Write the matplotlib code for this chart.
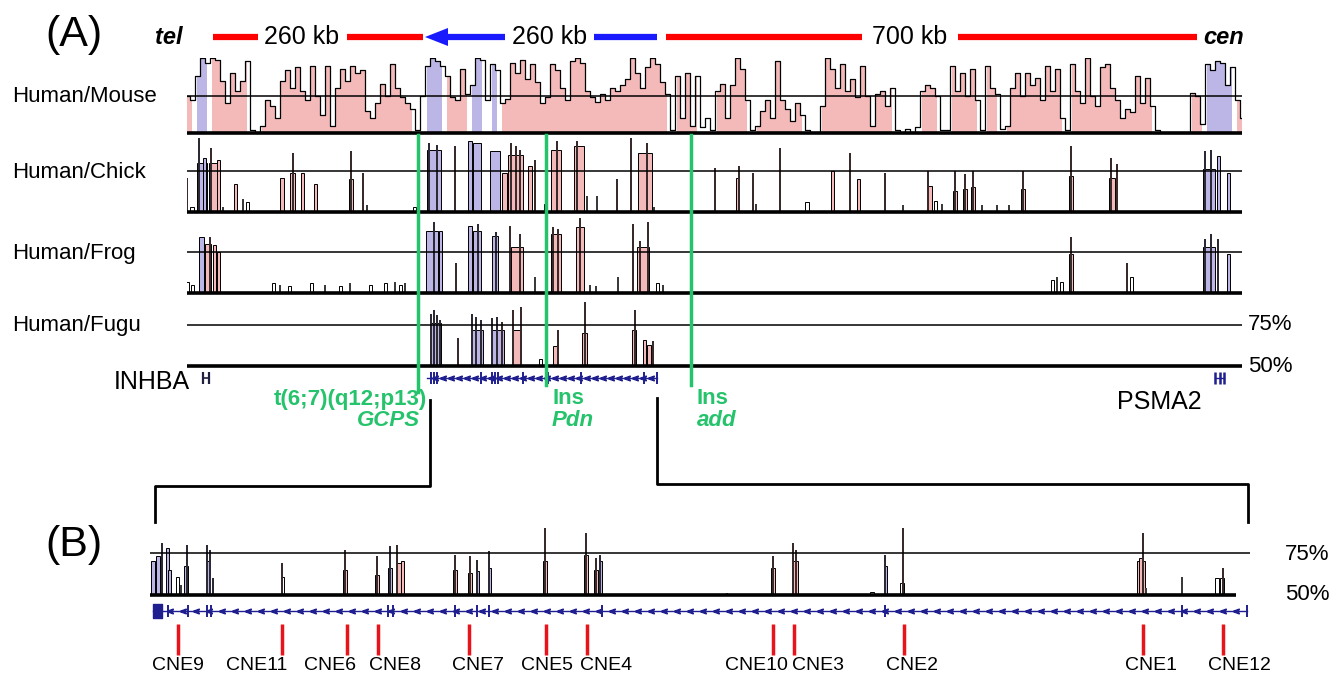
import numpy as np
import matplotlib.pyplot as plt

plt.rcParams['font.family'] = ['Liberation Sans', 'DejaVu Sans']

W, H = 1343, 678
PINK = '#f4b9b9'
LAV = '#bbb6e6'
GREEN = '#25c36b'
NAVY = '#1f1f8f'

# Human/Mouse identity (%), one value every 5 units along the locus
hm_vals = [
    75, 72, 88, 100, 97, 100, 99, 85, 70, 90,
    78, 85, 98, 52, 50, 55, 72, 68, 60, 85,
    92, 80, 94, 78, 72, 95, 75, 62, 95, 55,
    80, 93, 85, 95, 90, 92, 65, 60, 70, 83,
    75, 96, 80, 74, 70, 66, 52, 75, 95, 100,
    98, 95, 88, 74, 72, 93, 76, 82, 100, 99,
    72, 96, 92, 70, 73, 97, 90, 99, 86, 96,
    84, 70, 74, 96, 92, 80, 72, 98, 100, 97,
    78, 74, 71, 76, 72, 80, 78, 82, 86, 100,
    90, 80, 94, 100, 96, 84, 76, 52, 88, 60,
    90, 55, 88, 54, 60, 52, 78, 83, 60, 82,
    100, 93, 72, 52, 55, 65, 72, 60, 98, 72,
    66, 58, 70, 62, 52, 50, 50, 68, 100, 93,
    80, 96, 78, 86, 74, 95, 75, 55, 76, 78,
    68, 80, 52, 50, 53, 51, 54, 78, 82, 80,
    75, 52, 52, 95, 78, 90, 75, 93, 72, 52,
    95, 80, 76, 53, 55, 80, 90, 75, 90, 82,
    87, 72, 95, 78, 93, 60, 52, 96, 78, 70,
    100, 75, 68, 94, 96, 80, 72, 60, 66, 64,
    88, 70, 87, 68, 52, 50, 50, 50, 50, 50,
    50, 77, 75, 56, 96, 92, 98, 97, 82, 94,
    72, 60,
]
exons_a = [(10, 20), (238, 258), (281, 296), (303, 313), (1018, 1045)]

# (position, identity %, width)
chick_peaks = [
    (0, 71, 2), (5, 53, 4), (15, 80, 10), (12, 95, 2), (17, 83, 3),
    (27, 80, 10), (24, 89, 2), (31, 82, 3), (36, 53, 2), (48, 67, 3), (56, 58, 2), (60, 56, 3),
    (95, 71, 4), (105, 74, 5), (106, 86, 2), (115, 74, 3), (128, 67, 3),
    (164, 70, 4), (164, 87, 2), (176, 74, 2), (180, 54, 2), (227, 53, 3),
    (247, 88, 14), (242, 92, 2), (250, 91, 2), (268, 90, 2),
    (283, 93, 4), (290, 92, 8), (308, 87, 10), (317, 74, 5),
    (328, 85, 15), (324, 92, 2), (329, 90, 2), (333, 88, 2),
    (343, 78, 4), (348, 82, 2), (358, 55, 3), (369, 88, 10), (370, 93, 2),
    (392, 90, 10), (390, 93, 2), (400, 60, 2), (410, 60, 2), (430, 70, 2),
    (444, 95, 2), (458, 86, 14), (460, 92, 2), (467, 53, 2),
    (528, 77, 2), (550, 71, 3), (552, 78, 2), (566, 74, 2), (569, 55, 2),
    (593, 89, 2), (620, 56, 4), (645, 75, 3), (663, 86, 2), (671, 70, 3), (698, 74, 2),
    (716, 54, 2), (741, 75, 2), (743, 66, 4), (748, 57, 3), (755, 55, 2),
    (768, 75, 2), (768, 63, 4), (778, 73, 2), (778, 64, 4), (786, 75, 2), (786, 65, 4),
    (795, 54, 2), (810, 54, 2), (822, 54, 2),
    (836, 75, 2), (836, 64, 4), (884, 72, 4), (884, 90, 2), (924, 83, 2), (925, 71, 6), (930, 79, 2),
    (1022, 76, 12), (1018, 87, 2), (1024, 88, 2), (1031, 84, 3), (1041, 74, 3),
]
frog_peaks = [
    (0, 57, 3), (5, 55, 3), (14, 84, 5), (21, 80, 6), (23, 84, 2), (27, 79, 3), (31, 75, 3),
    (86, 56, 3), (93, 55, 2), (102, 54, 3), (124, 56, 3), (138, 55, 2), (153, 54, 3),
    (163, 56, 2), (183, 55, 3), (198, 56, 3), (208, 57, 2), (213, 55, 3), (218, 56, 2),
    (245, 88, 12), (247, 93, 2), (253, 88, 3), (269, 68, 2), (283, 91, 4),
    (290, 88, 8), (291, 92, 2), (308, 85, 6), (309, 87, 2), (323, 91, 2),
    (330, 78, 12), (333, 86, 2), (348, 60, 2), (369, 86, 10), (366, 90, 2), (371, 89, 2),
    (393, 90, 8), (393, 96, 2), (403, 55, 2), (409, 54, 2), (431, 60, 2),
    (456, 78, 12), (446, 92, 2), (453, 82, 2), (461, 93, 2), (470, 56, 3), (476, 55, 2),
    (865, 58, 3), (870, 60, 2), (874, 57, 3), (884, 74, 4), (884, 84, 2),
    (940, 68, 2), (944, 60, 3), (1022, 78, 12), (1018, 83, 2), (1024, 86, 2), (1031, 83, 2), (1041, 74, 3),
]
fugu_peaks = [
    (249, 76, 10), (244, 82, 2), (247, 84, 2), (250, 81, 2), (253, 78, 2), (271, 67, 2),
    (290, 72, 12), (285, 82, 2), (289, 80, 2), (294, 78, 2),
    (311, 72, 12), (305, 79, 2), (310, 80, 2), (315, 77, 2),
    (330, 72, 8), (326, 84, 2), (334, 86, 2), (353, 54, 3),
    (368, 62, 4), (371, 72, 2), (397, 70, 5), (398, 89, 2),
    (447, 72, 4), (448, 84, 2), (457, 66, 3), (462, 63, 4), (466, 65, 2),
]
b_peaks = [
    (3, 70, 4), (8, 73, 4), (12, 81, 2), (17, 78, 3), (19, 65, 3), (27, 61, 3), (31, 56, 2),
    (36, 67, 4), (37, 80, 2), (58, 70, 4), (57, 80, 2), (60, 77, 2), (63, 60, 2),
    (132, 61, 3), (132, 69, 2), (195, 65, 4), (195, 77, 2), (227, 62, 4), (227, 73, 2),
    (240, 66, 4), (240, 79, 2), (249, 69, 5), (247, 80, 2), (252, 70, 3),
    (305, 65, 4), (305, 74, 2), (320, 63, 4), (320, 73, 2), (327, 64, 3), (327, 71, 2),
    (339, 66, 3), (339, 76, 2), (395, 70, 4), (395, 90, 2),
    (436, 74, 4), (436, 87, 2), (446, 65, 4), (446, 72, 2), (450, 70, 3), (450, 74, 2),
    (577, 51, 2), (623, 66, 4), (623, 73, 2), (645, 70, 5), (643, 81, 2), (646, 77, 2),
    (722, 52, 4), (735, 67, 3), (735, 74, 2), (752, 57, 4), (753, 90, 2),
    (991, 70, 8), (990, 72, 3), (993, 87, 2), (996, 54, 2), (1032, 61, 2),
    (1067, 60, 4), (1072, 60, 4), (1073, 66, 2),
]
exons_b = [(0, 22), (34, 40), (55, 65), (238, 243), (325, 330), (337, 341), (448, 453), (733, 737)]

track_names = ['Human/Mouse', 'Human/Chick', 'Human/Frog', 'Human/Fugu']
breakpoints = [231, 359, 504]
bp_text = [('t(6;7)(q12;p13)', 'GCPS'), ('Ins', 'Pdn'), ('Ins', 'add')]
gene_a = (240, 470)
gene_a_exons = [244, 247, 250, 294, 305, 308, 311, 336, 361, 394, 457, 470]
gene_b = (3, 1097)
gene_b_exons = [18, 38, 57, 61, 238, 243, 305, 327, 339, 452, 735, 1032, 1097]
cne_names = ['CNE9', 'CNE11', 'CNE6', 'CNE8', 'CNE7', 'CNE5', 'CNE4',
             'CNE10', 'CNE3', 'CNE2', 'CNE1', 'CNE12']
cne_pos = [28, 132, 197, 228, 319, 396, 437, 623, 644, 754, 993, 1073]
cne_label_x = [28, 107, 180, 245, 328, 397, 456, 606, 668, 762, 1001, 1089]

fig = plt.figure(figsize=(W / 100, H / 100), dpi=100)


def px_axes(x0, y0, x1, y1):
    ax = fig.add_axes([x0 / W, 1 - y1 / H, (x1 - x0) / W, (y1 - y0) / H])
    ax.axis('off')
    return ax


def in_exon(p, exons):
    return any(a <= p <= b for a, b in exons)


def setup_track(ax, span, base_end=None):
    ax.set_xlim(0, span)
    ax.set_ylim(50, 100)
    ax.hlines(75, 0, span, color='black', lw=1.1, zorder=4)
    ax.hlines(50, 0, base_end or span, color='black', lw=2.6, zorder=5, clip_on=False)


def draw_peaks(ax, peaks, exons):
    for pos, pct, w in sorted(peaks, key=lambda t: -t[2]):
        if in_exon(pos, exons):
            fc = LAV
        elif pct >= 62:
            fc = PINK
        else:
            fc = 'white'
        if w <= 2:
            # thin spike: fill strip plus a black line at its peak
            ax.bar(pos, pct - 50, width=w, bottom=50, color=fc, lw=0, zorder=2)
            ax.vlines(pos, 50, pct, color='black', lw=1.1, zorder=3)
        else:
            ax.bar(pos, pct - 50, width=w, bottom=50, color=fc, edgecolor='black',
                   linewidth=0.7, zorder=2)


# panel A tracks
A_X0, A_X1 = 187, 1242
span_a = A_X1 - A_X0
track_rows = [(58, 133), (130, 212), (211, 293), (284, 366)]

ax = px_axes(A_X0, 58, A_X1, 133)
setup_track(ax, span_a)
pos = np.arange(len(hm_vals)) * 5
v = np.array(hm_vals)
ex = np.array([in_exon(p, exons_a) for p in pos])
ax.fill_between(pos, 50, v, where=(v >= 55) & ~ex, step='mid', color=PINK, lw=0)
ax.fill_between(pos, 50, v, where=ex, step='mid', color=LAV, lw=0)
ax.step(pos, v, where='mid', color='black', lw=0.9, zorder=3)

for (y0, y1), peaks in zip(track_rows[1:], [chick_peaks, frog_peaks, fugu_peaks]):
    ax = px_axes(A_X0, y0, A_X1, y1)
    setup_track(ax, span_a)
    draw_peaks(ax, peaks, exons_a)

# gene row of panel A
g = px_axes(A_X0, 370, A_X1, 386)
g.set_xlim(0, span_a)
g.set_ylim(-1, 1)
g.plot(gene_a, [0, 0], color=NAVY, lw=1)
chev_a = np.arange(gene_a[0] + 8, gene_a[1], 8)
g.plot(chev_a, np.zeros(len(chev_a)), ls='none', marker='$<$', ms=4, color=NAVY)
g.vlines(gene_a_exons, -0.8, 0.8, color=NAVY, lw=1.4)
g.vlines([16, 22], -0.7, 0.7, color='#202040', lw=1.6)
g.plot([16, 22], [0, 0], color='#202040', lw=1.2)
g.vlines([1028, 1033, 1037], -0.8, 0.8, color=NAVY, lw=1.8)
g.plot([1028, 1037], [0, 0], color=NAVY, lw=1)

# panel B
B_X0, B_X1 = 150, 1250
span_b = B_X1 - B_X0
ax = px_axes(B_X0, 511, B_X1, 595)
setup_track(ax, span_b, base_end=1086)
draw_peaks(ax, b_peaks, exons_b)

gb = px_axes(B_X0, 603, B_X1, 619)
gb.set_xlim(0, span_b)
gb.set_ylim(-1, 1)
gb.plot(gene_b, [0, 0], color=NAVY, lw=1)
chev = np.arange(20, gene_b[1], 13)
gb.plot(chev, np.zeros(len(chev)), ls='none', marker='$<$', ms=4, color=NAVY)
gb.vlines(gene_b_exons, -0.8, 0.8, color=NAVY, lw=1.4)
gb.fill_between([3, 12], -0.9, 0.9, color=NAVY)

cb = px_axes(B_X0, 620, B_X1, 680)
cb.set_xlim(0, span_b)
cb.set_ylim(0, 1)
cb.vlines(cne_pos, 0.42, 0.93, color='#e8141c', lw=2.5)
for name, lx in zip(cne_names, cne_label_x):
    cb.text(lx, 0.25, name, ha='center', va='center', fontsize=14)

# overlay: labels, scale bar, annotations
ov = fig.add_axes([0, 0, 1, 1])
ov.set_xlim(0, W)
ov.set_ylim(H, 0)
ov.axis('off')

ov.text(45, 35, '(A)', fontsize=31, va='center', ha='left')
ov.text(45, 545, '(B)', fontsize=31, va='center', ha='left')
for name, (y0, y1) in zip(track_names, track_rows):
    ov.text(12, (y0 + y1) / 2 + 1, name, fontsize=16, va='center', ha='left')
ov.text(1248, 325, '75%', fontsize=16, va='center')
ov.text(1248, 367, '50%', fontsize=16, va='center')
ov.text(1285, 555, '75%', fontsize=16, va='center')
ov.text(1285, 594, '50%', fontsize=16, va='center')

ov.text(155, 38, 'tel', fontsize=17, fontweight='bold', fontstyle='italic', va='center')
ov.text(1203, 38, 'cen', fontsize=17, fontweight='bold', fontstyle='italic', va='center')
for x0, x1, c in [(213, 258, 'red'), (347, 423, 'red'), (440, 505, '#1a1aff'),
                  (594, 657, '#1a1aff'), (666, 862, 'red'), (958, 1197, 'red')]:
    ov.plot([x0, x1], [37, 37], color=c, lw=4.5, solid_capstyle='butt')
ov.fill([425, 448, 448], [37, 28, 46], color='#1a1aff', lw=0)
ov.text(302, 37, '260 kb', fontsize=18, ha='center', va='center')
ov.text(550, 37, '260 kb', fontsize=18, ha='center', va='center')
ov.text(910, 37, '700 kb', fontsize=18, ha='center', va='center')

ov.text(190, 382, 'INHBA', fontsize=18, ha='right', va='center')
ov.text(1117, 402, 'PSMA2', fontsize=18, ha='left', va='center')

for p, end, (l1, l2), i in zip(breakpoints, [392, 385, 385], bp_text, range(3)):
    x = A_X0 + p
    ov.plot([x, x], [135, end], color=GREEN, lw=2.5)
    if i == 0:
        ov.text(x + 9, 400, l1, color=GREEN, fontsize=16, fontweight='bold', ha='right', va='center')
        ov.text(x + 2, 421, l2, color=GREEN, fontsize=16, fontweight='bold', fontstyle='italic',
                ha='right', va='center')
    else:
        ov.text(x + 6, 398, l1, color=GREEN, fontsize=16, fontweight='bold', va='center')
        ov.text(x + 6, 420, l2, color=GREEN, fontsize=16, fontweight='bold', fontstyle='italic', va='center')

ov.plot([430, 430, 155, 155], [400, 486, 486, 522], color='black', lw=2)
ov.plot([657, 657, 1248, 1248], [398, 484, 484, 522], color='black', lw=2)

fig.savefig('out.png', dpi=100)
